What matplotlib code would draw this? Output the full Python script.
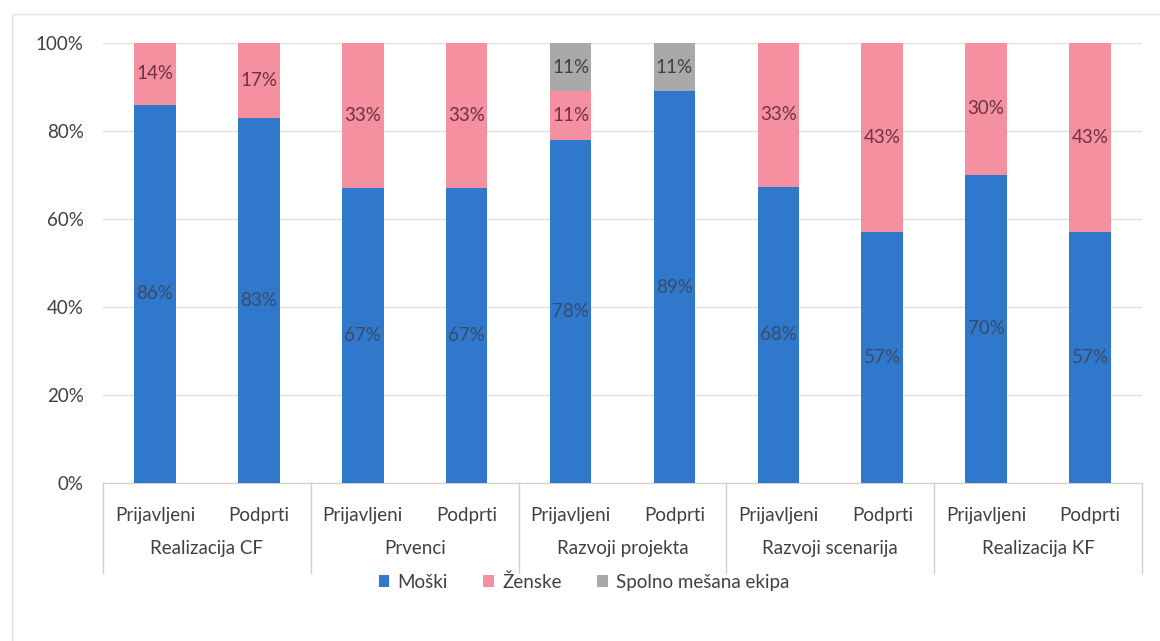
import matplotlib.pyplot as plt
import matplotlib.patches as patches
import numpy as np

plt.rcParams['font.family'] = ['Lato', 'DejaVu Sans']

# podatki
skupine = ['Realizacija CF', 'Prvenci', 'Razvoji projekta', 'Razvoji scenarija', 'Realizacija KF']
podskupine = ['Prijavljeni', 'Podprti']
moski = [86, 83, 67, 67, 78, 89, 68, 57, 70, 57]
zenske = [14, 17, 33, 33, 11, 0, 33, 43, 30, 43]
mesana = [0, 0, 0, 0, 11, 11, 0, 0, 0, 0]

serije = ['Moški', 'Ženske', 'Spolno mešana ekipa']
barve = ['#2f78cc', '#f4909f', '#a9a9a9']
barve_teksta = ['#3c4a66', '#6e3340', '#404040']

vrednosti = np.array([moski, zenske, mesana], dtype=float)
# 100% stacked, kot v Excelu
delezi = vrednosti / vrednosti.sum(axis=0) * 100

fs = 13.5
fig = plt.figure(figsize=(11.6, 6.41), dpi=100)
ax = fig.add_axes([103 / 1160, 1 - 483 / 641, 1039 / 1160, 440 / 641])

x = np.arange(len(moski))
spodaj = np.zeros(len(moski))
for i in range(3):
    ax.bar(x, delezi[i], 0.4, bottom=spodaj, color=barve[i], label=serije[i], zorder=3)
    for j in range(len(x)):
        if vrednosti[i, j] > 0:
            ax.text(x[j], spodaj[j] + delezi[i, j] / 2, f'{vrednosti[i, j]:.0f}%',
                    ha='center', va='center', fontsize=fs, color=barve_teksta[i], zorder=4)
    spodaj += delezi[i]

ax.set_xlim(-0.5, len(x) - 0.5)
ax.set_ylim(0, 100)
ax.set_yticks(np.arange(0, 101, 20))
ax.set_yticklabels([f'{v}%' for v in range(0, 101, 20)], fontsize=fs, color='#404040')
ax.tick_params(axis='y', length=0, pad=14)
ax.grid(axis='y', color='#e0e0e0', linewidth=1, zorder=0)
for s in ['top', 'right', 'left']:
    ax.spines[s].set_visible(False)
ax.spines['bottom'].set_color('#d0d0d0')

# dvonivojske oznake
ax.set_xticks([])
trans = ax.get_xaxis_transform()
for j in range(len(x)):
    ax.text(x[j], -0.073, podskupine[j % 2], transform=trans, ha='center', va='center',
            fontsize=fs, color='#404040')
for g, ime in enumerate(skupine):
    ax.text(2 * g + 0.5, -0.148, ime, transform=trans, ha='center', va='center',
            fontsize=fs, color='#404040')
for g in range(len(skupine) + 1):
    ax.plot([2 * g - 0.5, 2 * g - 0.5], [0, -0.205], transform=trans, color='#d0d0d0',
            linewidth=1, clip_on=False)

leg = fig.legend(loc='center', bbox_to_anchor=(584 / 1160, 1 - 582 / 641), ncol=3,
                 frameon=False, fontsize=fs, handlelength=0.55, handleheight=0.55,
                 handletextpad=0.45, columnspacing=1.9)
for t in leg.get_texts():
    t.set_color('#404040')

# okvir grafa
fig.patches.append(patches.Rectangle((12 / 1160, -0.02), 1.2, 1 - 14 / 641 + 0.02,
                                     transform=fig.transFigure, fill=False,
                                     edgecolor='#e4e4e4', linewidth=1))

fig.savefig('out.png', dpi=100)
